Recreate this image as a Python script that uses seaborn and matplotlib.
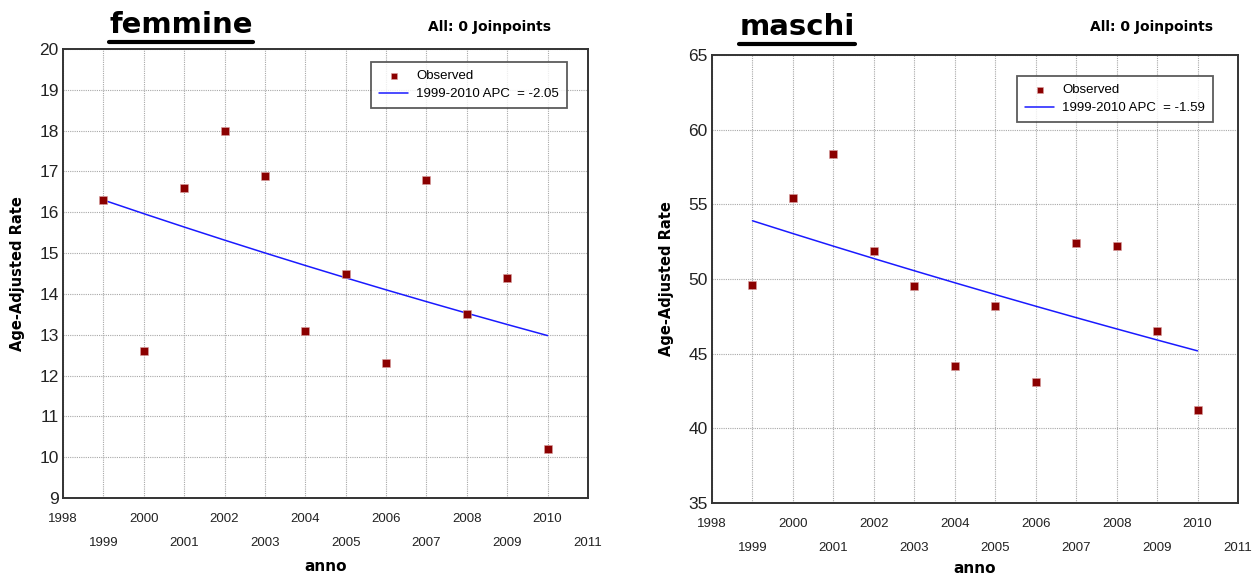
import numpy as np
import pandas as pd
import matplotlib
matplotlib.use("Agg")
import matplotlib.pyplot as plt
from matplotlib.lines import Line2D
import seaborn as sns

# Observed age-adjusted rates by year
years = [1999, 2000, 2001, 2002, 2003, 2004, 2005, 2006, 2007, 2008, 2009, 2010]
rate_femmine = [16.3, 12.6, 16.6, 18.0, 16.9, 13.1, 14.5, 12.3, 16.8, 13.5, 14.4, 10.2]
rate_maschi = [49.6, 55.4, 58.4, 51.9, 49.5, 44.2, 48.2, 43.1, 52.4, 52.2, 46.5, 41.2]

# Joinpoint fit (0 joinpoints): starting value and annual percent change
fit_start_femmine = 16.3
apc_femmine = -2.05
fit_start_maschi = 53.9
apc_maschi = -1.59

x_tick_years = list(range(1998, 2012))
y_ticks_femmine = list(range(9, 21))
y_ticks_maschi = [35, 40, 45, 50, 55, 60, 65]

sns.set_style("white")
plt.rcParams["font.family"] = ["Liberation Sans", "DejaVu Sans"]
plt.rcParams["text.color"] = "black"
plt.rcParams["axes.labelcolor"] = "black"

W, H = 1253, 574
fig = plt.figure(figsize=(W / 100, H / 100), dpi=100)


def fitted(start, apc):
    yrs = np.array(years, dtype=float)
    return start * (1 + apc / 100.0) ** (yrs - years[0])


def panel(rect, rates, start, apc, yticks, title, title_xy, jp_xy,
          leg_anchor, xlabel_y):
    ax = fig.add_axes(rect)
    df = pd.DataFrame({"anno": years, "rate": rates,
                       "fit": fitted(start, apc)})
    sns.lineplot(data=df, x="anno", y="fit", ax=ax, color="#1a1aff", lw=1.1,
                 label=f"{years[0]}-{years[-1]} APC  = {apc:.2f}", zorder=3)
    sns.scatterplot(data=df, x="anno", y="rate", ax=ax, marker="s", s=30,
                    color="#8b0000", edgecolor="#d9a0a0", linewidth=0.4,
                    label="Observed", zorder=4)

    ax.set_xlim(x_tick_years[0], x_tick_years[-1])
    ax.set_ylim(yticks[0], yticks[-1])
    even = [y for y in x_tick_years if y % 2 == 0]
    odd = [y for y in x_tick_years if y % 2 == 1]
    ax.set_xticks(even)
    ax.set_xticklabels([str(y) for y in even])
    ax.set_xticks(odd, minor=True)
    ax.set_xticklabels([str(y) for y in odd], minor=True)
    ax.set_yticks(yticks)
    ax.tick_params(axis="x", which="major", length=0, pad=11, labelsize=9.5)
    ax.tick_params(axis="x", which="minor", length=0, pad=28, labelsize=9.5)
    ax.tick_params(axis="y", length=0, pad=3, labelsize=12.5, colors="#222222")
    ax.tick_params(axis="x", which="both", colors="#222222")
    ax.grid(True, which="both", color="#a8a8a8", linestyle=(0, (1, 1)), lw=0.8)
    ax.set_axisbelow(True)
    for sp in ax.spines.values():
        sp.set_color("#333333")
        sp.set_linewidth(1.4)

    ax.set_xlabel("anno", fontsize=11, fontweight="bold", family="DejaVu Sans")
    ax.xaxis.set_label_coords(0.5, xlabel_y)
    ax.set_ylabel("Age-Adjusted Rate", fontsize=10.5, fontweight="bold",
                  family="DejaVu Sans", labelpad=10)

    # Legend: observed points first, then the fitted segment
    h, l = ax.get_legend_handles_labels()
    order = [1, 0]
    leg = ax.legend([h[i] for i in order], [l[i] for i in order],
                    loc="upper right", bbox_to_anchor=leg_anchor,
                    borderaxespad=0, frameon=True, fancybox=False,
                    fontsize=9.5, handlelength=2.2, handletextpad=0.6,
                    borderpad=0.6, labelspacing=0.45, markerscale=0.75)
    leg.get_frame().set_edgecolor("#333333")
    leg.get_frame().set_linewidth(1.3)

    t = fig.text(title_xy[0] / W, 1 - title_xy[1] / H, title, ha="center",
                 va="center", fontsize=21, fontweight="bold",
                 family="DejaVu Sans")
    fig.text(jp_xy[0] / W, 1 - jp_xy[1] / H, "All: 0 Joinpoints", ha="center",
             va="center", fontsize=10, fontweight="bold", family="DejaVu Sans")
    return ax, t


ax1, t1 = panel([63 / W, 1 - 498 / H, 525 / W, 449 / H], rate_femmine,
                fit_start_femmine, apc_femmine, y_ticks_femmine, "femmine",
                (181, 25), (490, 27), (0.96, 0.971), -0.135)
ax2, t2 = panel([712 / W, 1 - 503 / H, 526 / W, 448 / H], rate_maschi,
                fit_start_maschi, apc_maschi, y_ticks_maschi, "maschi",
                (797, 27), (1152, 27), (0.952, 0.953), -0.13)

# Underline the panel titles
fig.canvas.draw()
renderer = fig.canvas.get_renderer()
for t in (t1, t2):
    bb = t.get_window_extent(renderer)
    y = bb.y0 - 3
    fig.add_artist(Line2D([bb.x0 / W, bb.x1 / W], [y / H, y / H],
                          transform=fig.transFigure, color="black", lw=3))

fig.savefig("out.png", dpi=100)
